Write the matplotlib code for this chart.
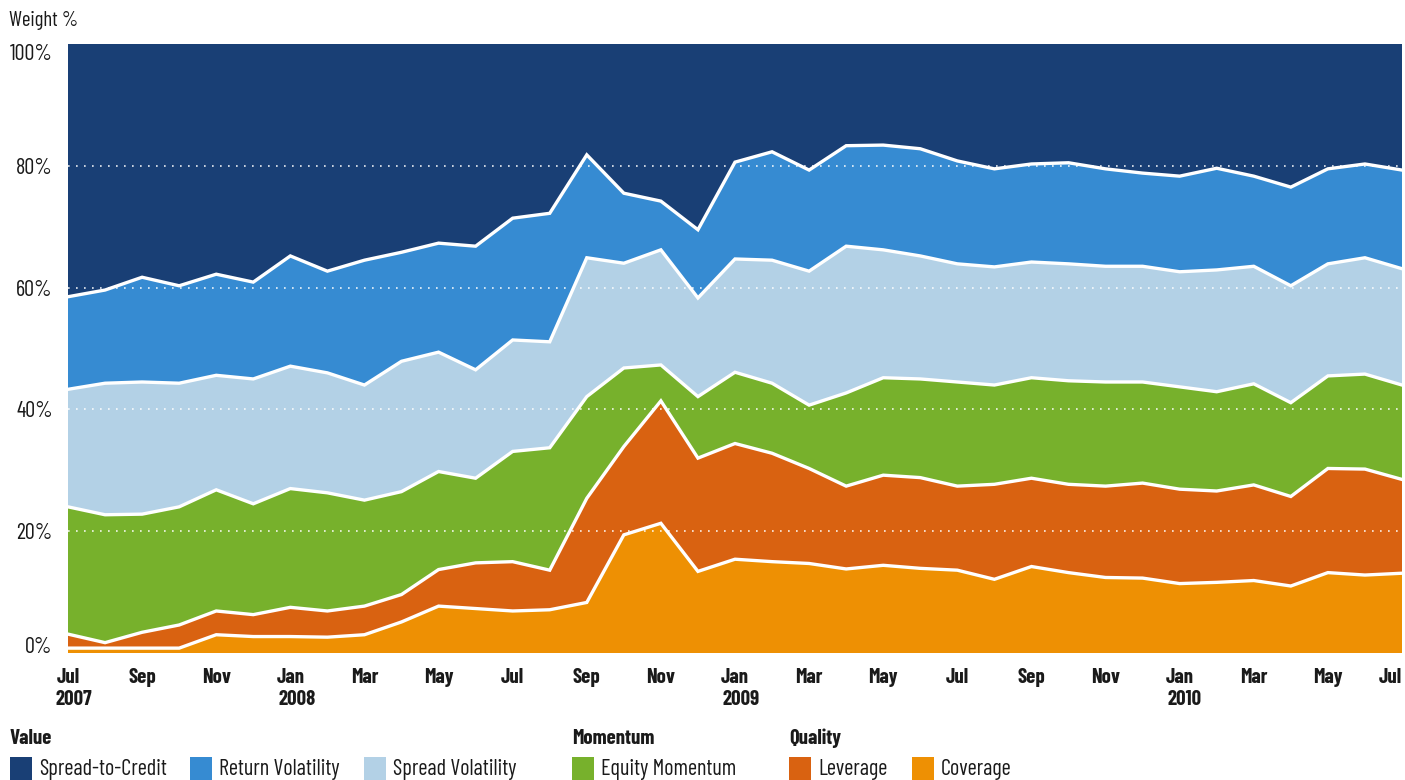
import numpy as np
import matplotlib
matplotlib.use("Agg")
import matplotlib.pyplot as plt
from matplotlib.patches import Rectangle

# narrow font like the original, falls back to DejaVu
plt.rcParams['font.family'] = ['Barlow Condensed', 'DejaVu Sans']
plt.rcParams['font.stretch'] = 'condensed'

# months Jul 2007 .. Jul 2010
MONTHS = ["Jul", "Aug", "Sep", "Oct", "Nov", "Dec",
          "Jan", "Feb", "Mar", "Apr", "May", "Jun"] * 3 + ["Jul"]
YEAR_LABELS = {0: "2007", 6: "2008", 18: "2009", 30: "2010"}

# weights in % (bottom to top)
coverage = [0.8, 0.8, 0.8, 0.8, 3.0, 2.7, 2.7, 2.6, 3.0, 5.1, 7.7, 7.3, 6.9,
            7.1, 8.3, 19.4, 21.3, 13.4, 15.4, 15.0, 14.7, 13.8, 14.4, 13.9, 13.6,
            12.1, 14.2, 13.2, 12.4, 12.3, 11.4, 11.6, 11.9, 11.0, 13.2, 12.8, 13.1]
leverage = [2.3, 0.9, 2.6, 3.8, 3.9, 3.6, 4.8, 4.3, 4.7, 4.5, 6.0, 7.5, 8.1,
            6.5, 17.1, 14.5, 20.1, 18.6, 19.0, 17.8, 15.6, 13.6, 14.8, 14.9, 13.8,
            15.6, 14.5, 14.5, 15.0, 15.6, 15.5, 15.0, 15.7, 14.7, 17.1, 17.4, 15.4]
equity_momentum = [20.9, 21.0, 19.4, 19.4, 19.9, 18.2, 19.5, 19.4, 17.4, 16.9, 16.1, 13.9, 18.1,
                   20.1, 16.7, 12.9, 5.9, 10.1, 11.7, 11.5, 10.4, 15.3, 16.0, 16.2, 17.1,
                   16.3, 16.5, 17.0, 17.1, 16.6, 16.8, 16.3, 16.6, 15.4, 15.2, 15.6, 15.5]
spread_vol = [19.3, 21.6, 21.7, 20.3, 18.8, 20.5, 20.1, 19.7, 18.9, 21.4, 19.6, 17.8, 18.3,
              17.4, 22.8, 17.2, 18.9, 16.2, 18.6, 20.2, 22.0, 24.1, 21.0, 20.2, 19.4,
              19.4, 19.0, 19.2, 19.0, 19.0, 18.9, 20.0, 19.3, 19.2, 18.4, 19.1, 19.1]
return_vol = [15.2, 15.3, 17.2, 16.0, 16.6, 15.9, 18.1, 16.7, 20.5, 17.9, 17.9, 20.3, 20.0,
              21.1, 16.9, 11.5, 8.0, 11.2, 15.9, 17.8, 16.6, 16.5, 17.2, 17.6, 16.9,
              16.1, 16.1, 16.6, 16.0, 15.3, 15.7, 16.7, 14.8, 16.2, 15.6, 15.4, 16.2]
spread_to_credit = [41.5, 40.4, 38.3, 39.7, 37.8, 39.1, 34.8, 37.3, 35.5, 34.2, 32.7, 33.2, 28.6,
                    27.8, 18.2, 24.5, 25.8, 30.5, 19.4, 17.7, 20.7, 16.7, 16.6, 17.2, 19.2,
                    20.5, 19.7, 19.5, 20.5, 21.2, 21.7, 20.4, 21.7, 23.5, 20.5, 19.7, 20.7]

SERIES = [coverage, leverage, equity_momentum, spread_vol, return_vol, spread_to_credit]
COLORS = ["#ee9003", "#d96211", "#77b12c", "#b3d1e6", "#368bd2", "#193f75"]
TXT = "#1a1a1a"

W, H = 1405, 780
fig = plt.figure(figsize=(W / 100, H / 100), dpi=100)
ax = fig.add_axes([68 / W, 1 - 653 / H, (1402 - 68) / W, (653 - 44) / H])

x = np.arange(len(MONTHS))
ax.stackplot(x, *SERIES, colors=COLORS, edgecolor="none", linewidth=0)

# white separators between layers
tops = np.cumsum(np.array(SERIES), axis=0)
for row in tops[:-1]:
    ax.plot(x, row, color="white", lw=2.4, zorder=4, solid_joinstyle="miter")

# dotted gridlines
for g in [20, 40, 60, 80]:
    ax.axhline(g, color="white", lw=1.2, ls=(0, (1, 3.8)), zorder=3, alpha=0.9)

ax.set_xlim(0, len(MONTHS) - 1)
ax.set_ylim(0, 100)
for s in ax.spines.values():
    s.set_visible(False)

ax.set_yticks([0, 20, 40, 60, 80, 100])
ax.set_yticklabels(["0%", "20%", "40%", "60%", "80%", "100%"], fontsize=16, color=TXT)
ax.tick_params(axis="y", length=0, pad=11)
ylabs = ax.get_yticklabels()
ylabs[0].set_va("baseline")
ylabs[-1].set_va("top")

xt = x[::2]
ax.set_xticks(xt)
ax.set_xticklabels([MONTHS[i] for i in xt], fontsize=15, fontweight="bold", color=TXT)
ax.tick_params(axis="x", length=0, pad=11)
ax.get_xticklabels()[-1].set_ha("right")
for i, yr in YEAR_LABELS.items():
    ax.text(i - 0.33, -0.077, yr, transform=ax.get_xaxis_transform(), ha="left", va="center",
            fontsize=15, fontweight="bold", color=TXT)

fig.text(9 / W, 1 - 21 / H, "Weight %", fontsize=15, color=TXT, ha="left", va="center")

# legend built by hand
groups = [("Value", 10), ("Momentum", 572), ("Quality", 789)]
for name, px in groups:
    fig.text(px / W, 1 - 738 / H, name, fontsize=15, fontweight="bold", color=TXT,
             ha="left", va="center")

legend_items = [("Spread-to-Credit", 10, COLORS[5]), ("Return Volatility", 190, COLORS[4]),
                ("Spread Volatility", 364, COLORS[3]), ("Equity Momentum", 572, COLORS[2]),
                ("Leverage", 789, COLORS[1]), ("Coverage", 912, COLORS[0])]
for label, px, col in legend_items:
    fig.add_artist(Rectangle((px / W, 1 - 782 / H), 22 / W, 25 / H, transform=fig.transFigure,
                             facecolor=col, edgecolor="none"))
    fig.text((px + 29) / W, 1 - 769 / H, label, fontsize=16, color=TXT, ha="left", va="center")

fig.savefig("out.png", dpi=100)
